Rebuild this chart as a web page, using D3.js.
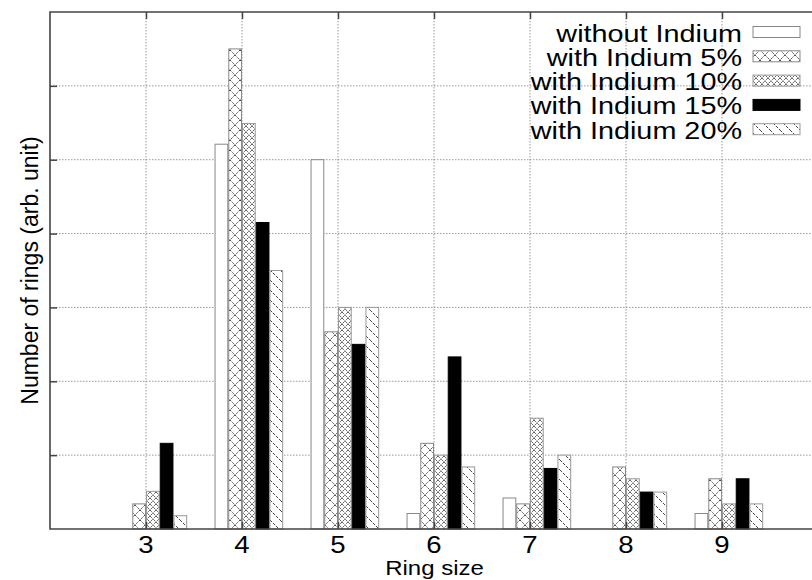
<!DOCTYPE html>
<html><head><meta charset="utf-8">
<script src="https://cdn.jsdelivr.net/npm/d3@7"></script>
<style>html,body{margin:0;padding:0;background:#fff;overflow:hidden}svg{display:block}</style>
</head><body>
<svg id="c" width="812" height="580"></svg>
<script>
const rings = [3,4,5,6,7,8,9];
const seriesNames = ["without Indium","with Indium 5%","with Indium 10%","with Indium 15%","with Indium 20%"];
const without = [0, 5.21, 5.0, 0.21, 0.42, 0, 0.21];
const in5  = [0.34, 6.5, 2.67, 1.16, 0.34, 0.84, 0.68];
const in10 = [0.51, 5.49, 3.0, 1.0, 1.5, 0.68, 0.34];
const in15 = [1.16, 4.15, 2.5, 2.33, 0.82, 0.5, 0.68];
const in20 = [0.18, 3.5, 3.0, 0.84, 1.0, 0.5, 0.34];
const yTicks = [1,2,3,4,5,6];
const allSeries = [without,in5,in10,in15,in20];

const svg = d3.select("#c");
const L=50, T=12, B=529, R=818;
const x = d3.scaleLinear().domain([2,10]).range([L,R]);
const y = d3.scaleLinear().domain([0,7]).range([B,T]);
const bw = 0.143; // bar width in x units
const SX = 1.2;
const font = "'Liberation Sans', Arial, Helvetica, sans-serif";

// patterns
const defs = svg.append("defs");
const p5 = defs.append("pattern").attr("id","p5").attr("patternUnits","userSpaceOnUse").attr("width",10).attr("height",10);
p5.append("rect").attr("width",10).attr("height",10).attr("fill","#fff");
p5.append("path").attr("d","M0,0L10,10M10,0L0,10M-1,9L1,11M9,-1L11,1").attr("stroke","#333").attr("stroke-width",0.9).attr("stroke-dasharray","1.5,0.8");
const p10 = defs.append("pattern").attr("id","p10").attr("patternUnits","userSpaceOnUse").attr("width",6).attr("height",6);
p10.append("rect").attr("width",6).attr("height",6).attr("fill","#fff");
p10.append("path").attr("d","M0,0L6,6M6,0L0,6").attr("stroke","#222").attr("stroke-width",1).attr("stroke-dasharray","1,1");
const p20 = defs.append("pattern").attr("id","p20").attr("patternUnits","userSpaceOnUse").attr("width",10).attr("height",10);
p20.append("rect").attr("width",10).attr("height",10).attr("fill","#fff");
p20.append("path").attr("d","M0,0L10,10M-5,5L0,10M5,-5L15,5").attr("stroke","#333").attr("stroke-width",0.9).attr("stroke-dasharray","3,1.2");

const fills = ["#fff","url(#p5)","url(#p10)","#000","url(#p20)"];
const strokes = ["#888","#888","#999","#000","#999"];

// grid
const grid = svg.append("g").attr("stroke","#999").attr("stroke-width",1).attr("stroke-dasharray","1.5,1.5");
grid.selectAll(".gy").data(yTicks).join("line")
  .attr("x1",L).attr("x2",R).attr("y1",d=>y(d)).attr("y2",d=>y(d));
grid.selectAll(".gx").data(rings).join("line")
  .attr("x1",d=>x(d)).attr("x2",d=>x(d)).attr("y1",T).attr("y2",B);

// bars
allSeries.forEach((vals,si)=>{
  svg.append("g").selectAll("rect").data(vals.map((v,i)=>({v,r:rings[i]}))).join("rect")
    .filter(d=>d.v>0)
    .attr("x",d=>x(d.r+(si-2)*bw)+0.5)
    .attr("width",d=>x(d.r+bw)-x(d.r)-1)
    .attr("y",d=>y(d.v))
    .attr("height",d=>y(0)-y(d.v))
    .attr("fill",fills[si]).attr("stroke",strokes[si]).attr("stroke-width",1);
});

// axes (ticks inward)
const yAx = svg.append("g").attr("transform",`translate(${L},0)`)
  .call(d3.axisRight(y).tickValues(yTicks).tickSize(7).tickFormat(""));
const xAxTop = svg.append("g").attr("transform",`translate(0,${T})`)
  .call(d3.axisBottom(x).tickValues(rings).tickSize(7).tickFormat(""));
const xAxB = svg.append("g").attr("transform",`translate(0,${B})`)
  .call(d3.axisTop(x).tickValues(rings).tickSize(7).tickFormat(""));
[yAx,xAxTop,xAxB].forEach(g=>{g.select(".domain").remove(); g.selectAll("line").attr("stroke","#444").attr("stroke-width",1.5);});

// border
svg.append("path").attr("d",`M${R},${T}H${L}V${B}H${R}`).attr("fill","none").attr("stroke","#444").attr("stroke-width",1.6);

// tick labels
svg.append("g").selectAll("text").data(rings).join("text")
  .attr("transform",d=>`translate(${x(d)},553) scale(${SX},1)`)
  .attr("text-anchor","middle").attr("font-family",font).attr("font-size",23).attr("fill","#000")
  .text(d=>d);

// axis titles
svg.append("text").attr("transform",`translate(434.5,575) scale(${SX},1)`)
  .attr("text-anchor","middle").attr("font-family",font).attr("font-size",20).attr("fill","#000").text("Ring size");
svg.append("text").attr("transform",`translate(38,270.5) rotate(-90)`)
  .attr("text-anchor","middle").attr("font-family",font).attr("font-size",23).attr("fill","#000").text("Number of rings (arb. unit)");

// legend
const lg = svg.append("g");
seriesNames.forEach((n,i)=>{
  const by = 41.5 + i*24.3;
  lg.append("text").attr("transform",`translate(742,${by}) scale(${SX},1)`)
    .attr("text-anchor","end").attr("font-family",font).attr("font-size",24).attr("fill","#000").text(n);
  lg.append("rect").attr("x",753).attr("y",by-15).attr("width",47).attr("height",11)
    .attr("fill",fills[i]).attr("stroke",strokes[i]).attr("stroke-width",1);
});
</script>
</body></html>
